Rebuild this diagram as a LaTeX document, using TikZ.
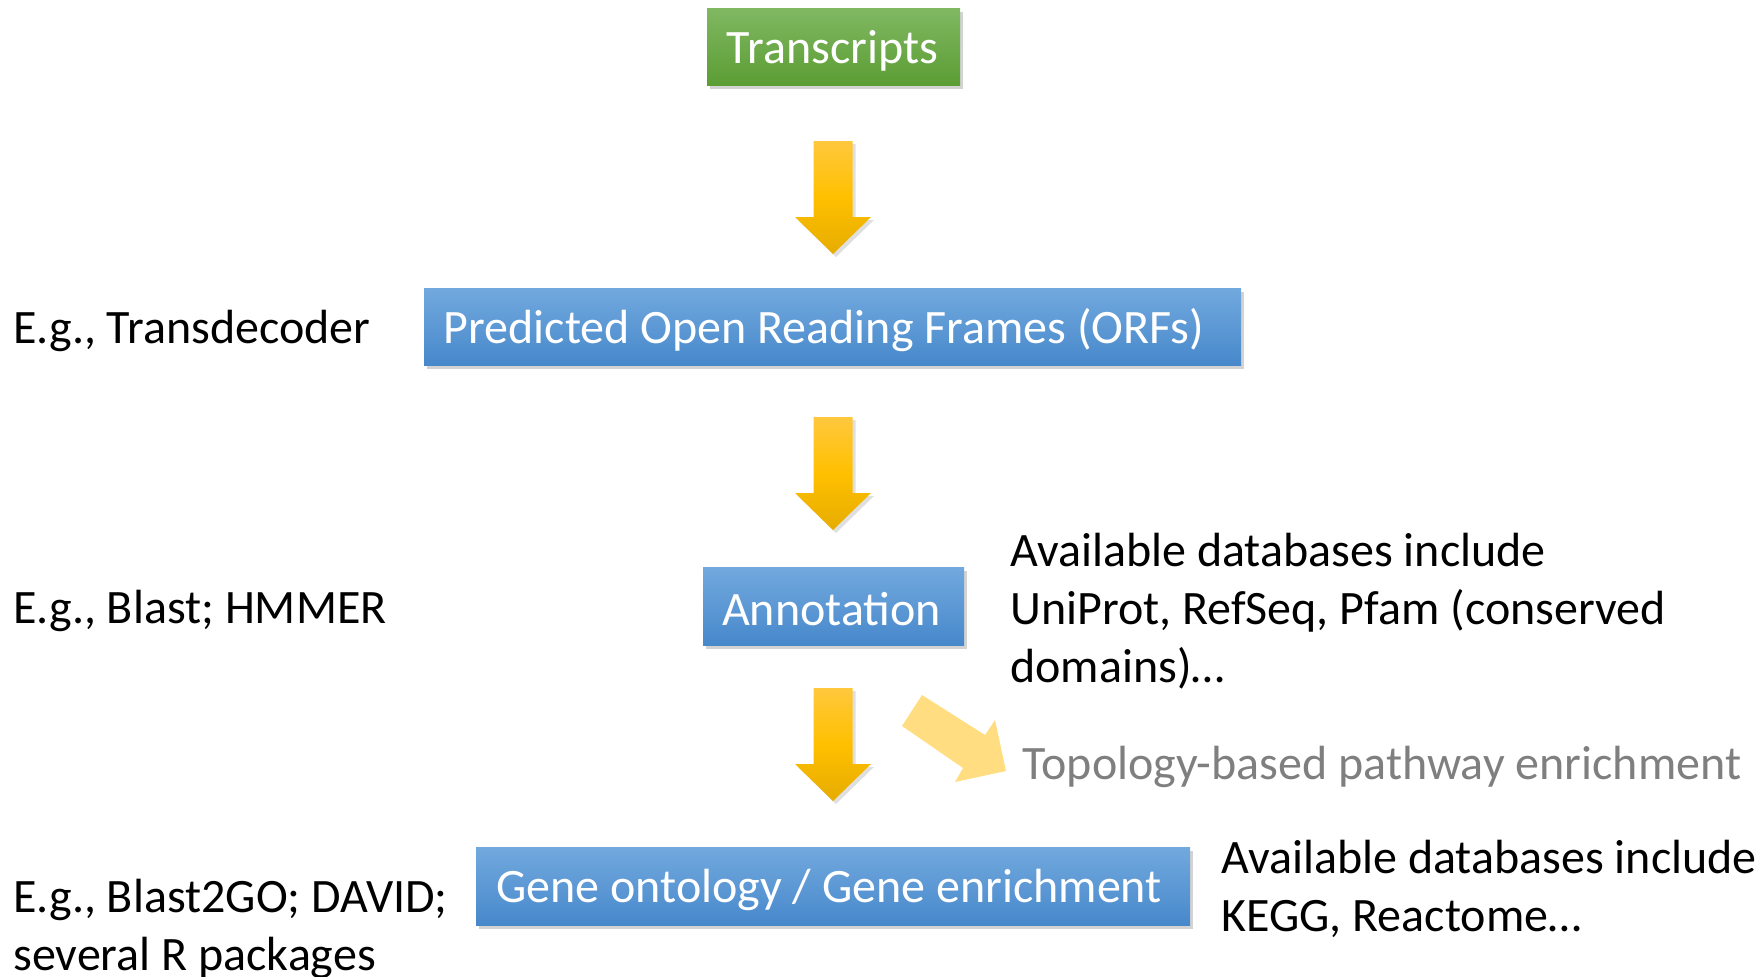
\documentclass[tikz,border=0pt]{standalone}
\usepackage{fontspec}
\setmainfont{Carlito}
\usetikzlibrary{shadows}
\definecolor{bluetop}{HTML}{72A9DE}
\definecolor{bluebot}{HTML}{4788CB}
\definecolor{greentop}{HTML}{80B862}
\definecolor{greenbot}{HTML}{5C9D34}
\definecolor{goldtop}{HTML}{FFC83D}
\definecolor{goldmid}{HTML}{FFC000}
\definecolor{goldbot}{HTML}{E6AC00}
\definecolor{lightgold}{HTML}{FFDD80}
\definecolor{graytext}{HTML}{7F7F7F}
\tikzset{
  box/.style={inner sep=0pt, text=white, font=\fontsize{24}{29}\selectfont,
    drop shadow={opacity=0.35, shadow xshift=1.5pt, shadow yshift=-2pt}},
  bluebox/.style={box, top color=bluetop, bottom color=bluebot},
  greenbox/.style={box, top color=greentop, bottom color=greenbot},
  boxtext/.style={text=white, font=\fontsize{24}{29}\selectfont},
  note/.style={anchor=west, inner sep=0pt, font=\fontsize{24}{29}\selectfont, align=left},
  goldarrow/.style={top color=goldtop, bottom color=goldbot, middle color=goldmid,
    drop shadow={opacity=0.25, shadow xshift=1.5pt, shadow yshift=-1.5pt}},
}
\newcommand\downblock[2]{% #1 name, #2 top y
  \coordinate (#1) at (833,#2);
  \path[goldarrow] ([xshift=-9.75pt]#1) -- ([xshift=9.75pt]#1) -- ([xshift=9.75pt,yshift=-38pt]#1)
    -- ([xshift=19pt,yshift=-38pt]#1) -- ([yshift=-56.5pt]#1) -- ([xshift=-19pt,yshift=-38pt]#1)
    -- ([xshift=-9.75pt,yshift=-38pt]#1) -- cycle;}
\begin{document}
\begin{tikzpicture}[x=0.5pt,y=-0.5pt]
\useasboundingbox (0,0) rectangle (1763,976);
% boxes
\path[greenbox] (707,8) rectangle (960,85);
\node[boxtext] (transcripts) at (832.5,50.5) {Transcripts};
\path[bluebox] (424,288) rectangle (1241,365);
\node[boxtext] (orf) at (824,330.5) {Predicted Open Reading Frames (ORFs)};
\path[bluebox] (703,567) rectangle (964,645);
\node[boxtext] (annot) at (831.5,609.5) {Annotation};
\path[bluebox] (476,847) rectangle (1190,925);
\node[boxtext] (go) at (829,889.5) {Gene ontology / Gene enrichment};
% arrows
\downblock{a1}{141}
\downblock{a2}{417}
\downblock{a3}{688}
% diagonal arrow
\coordinate (d1) at (922,695);
\fill[lightgold] (d1) -- (985,735) -- (995,720) -- (1006,771) -- (955,782) -- (963,768) -- (902,726) -- cycle;
% notes
\node[note] (n1) at (13,330.5) {E.g., Transdecoder};
\node[note] (n2) at (13,610.5) {E.g., Blast; HMMER};
\node[note] (n3) at (13,928.5) {E.g., Blast2GO; DAVID;\\several R packages};
\node[note] (n4) at (1010,611.5) {Available databases include\\UniProt, RefSeq, Pfam (conserved\\domains)…};
\node[note, text=graytext] (n5) at (1022,766.5) {Topology-based pathway enrichment};
\node[note] (n6) at (1221,888.5) {Available databases include\\KEGG, Reactome…};
\end{tikzpicture}
\end{document}
